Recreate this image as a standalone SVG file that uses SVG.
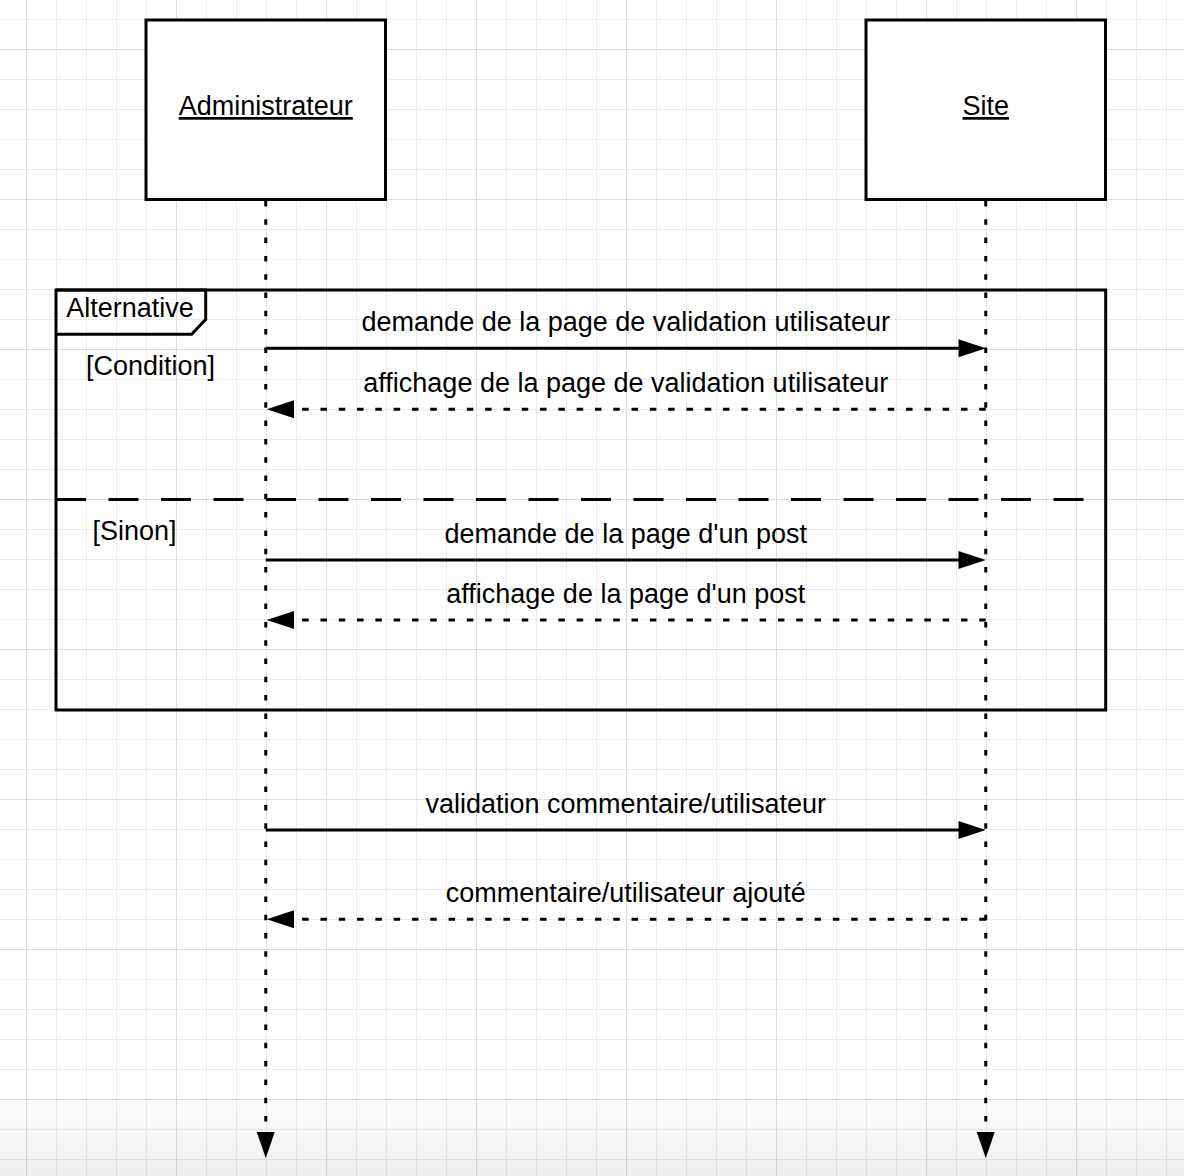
<svg xmlns="http://www.w3.org/2000/svg" width="1184" height="1176" viewBox="0 0 1184 1176">
<style>
text{font-family:"Liberation Sans",Arial,sans-serif;font-size:27px;fill:#000}
.mid{text-anchor:middle}
.box{fill:#fff;stroke:#000;stroke-width:3}
.frame{fill:none;stroke:#000;stroke-width:3}
.solid{stroke:#000;stroke-width:3;fill:none}
.dot{stroke:#000;stroke-width:3;fill:none;stroke-dasharray:6.5 11.8}
.life{stroke:#000;stroke-width:3;fill:none;stroke-dasharray:5.5 12.8}
.sep{stroke:#000;stroke-width:3;fill:none;stroke-dasharray:30 22.5}
.head{fill:#000}
</style>
<defs>
<pattern id="minor" x="26" y="19" width="30" height="30" patternUnits="userSpaceOnUse">
<path d="M0.5 0V30M0 0.5H30" stroke="#ebebeb" stroke-width="1" fill="none"/>
</pattern>
<pattern id="major" x="26" y="49" width="150" height="150" patternUnits="userSpaceOnUse">
<path d="M0.5 0V150M0 0.5H150" stroke="#dcdcdc" stroke-width="1" fill="none"/>
</pattern>
<linearGradient id="fade" x1="0" y1="0" x2="0" y2="1">
<stop offset="0" stop-color="#000" stop-opacity="0.005"/>
<stop offset="1" stop-color="#000" stop-opacity="0.065"/>
</linearGradient>
</defs>
<g id="background">
<rect x="0" y="0" width="1184" height="1176" fill="#fff"/>
<rect x="0" y="0" width="1184" height="1176" fill="url(#minor)"/>
<rect x="0" y="0" width="1184" height="1176" fill="url(#major)"/>
</g>
<g id="node-administrateur">
<rect class="box" x="146" y="20" width="239.5" height="179.5"/>
<text class="mid" x="265.75" y="115" text-decoration="underline">Administrateur</text>
</g>
<g id="node-site">
<rect class="box" x="866" y="20" width="239.5" height="179.5"/>
<text class="mid" x="985.75" y="115" text-decoration="underline">Site</text>
</g>
<g id="fragment-alternative">
<rect class="frame" x="56" y="290" width="1049.7" height="420"/>
<path class="frame" d="M56 290H205.7V319.3L191.7 334.3H56"/>
<text x="66.2" y="316.7">Alternative</text>
<text x="86" y="375">[Condition]</text>
<line class="sep" x1="56" y1="499.5" x2="1083.5" y2="499.5"/>
<text x="92.5" y="540">[Sinon]</text>
</g>
<g id="connectors">
<line class="life" x1="265.75" y1="201" x2="265.75" y2="1134"/>
<polygon class="head" points="256.75,1132 274.75,1132 265.75,1158"/>
<line class="life" x1="985.75" y1="201" x2="985.75" y2="1134"/>
<polygon class="head" points="976.75,1132 994.75,1132 985.75,1158"/>

<line class="solid" x1="265.75" y1="348.3" x2="960" y2="348.3"/>
<polygon class="head" points="958.5,339.3 985.75,348.3 958.5,357.3"/>
<text class="mid" x="625.75" y="331">demande de la page de validation utilisateur</text>

<line class="dot" x1="985.75" y1="409.3" x2="292" y2="409.3"/>
<polygon class="head" points="294,400.3 266.75,409.3 294,418.3"/>
<text class="mid" x="625.75" y="391.7">affichage de la page de validation utilisateur</text>

<line class="solid" x1="265.75" y1="560" x2="960" y2="560"/>
<polygon class="head" points="958.5,551 985.75,560 958.5,569"/>
<text class="mid" x="625.75" y="542.7">demande de la page d'un post</text>

<line class="dot" x1="985.75" y1="620" x2="292" y2="620"/>
<polygon class="head" points="294,611 266.75,620 294,629"/>
<text class="mid" x="625.75" y="602.7">affichage de la page d'un post</text>

<line class="solid" x1="265.75" y1="830" x2="960" y2="830"/>
<polygon class="head" points="958.5,821 985.75,830 958.5,839"/>
<text class="mid" x="625.75" y="813.3">validation commentaire/utilisateur</text>

<line class="dot" x1="985.75" y1="919.3" x2="292" y2="919.3"/>
<polygon class="head" points="294,910.3 266.75,919.3 294,928.3"/>
<text class="mid" x="625.75" y="901.7">commentaire/utilisateur ajouté</text>
</g>
<rect id="bottom-fade" x="0" y="1099" width="1184" height="77" fill="url(#fade)"/>
</svg>
